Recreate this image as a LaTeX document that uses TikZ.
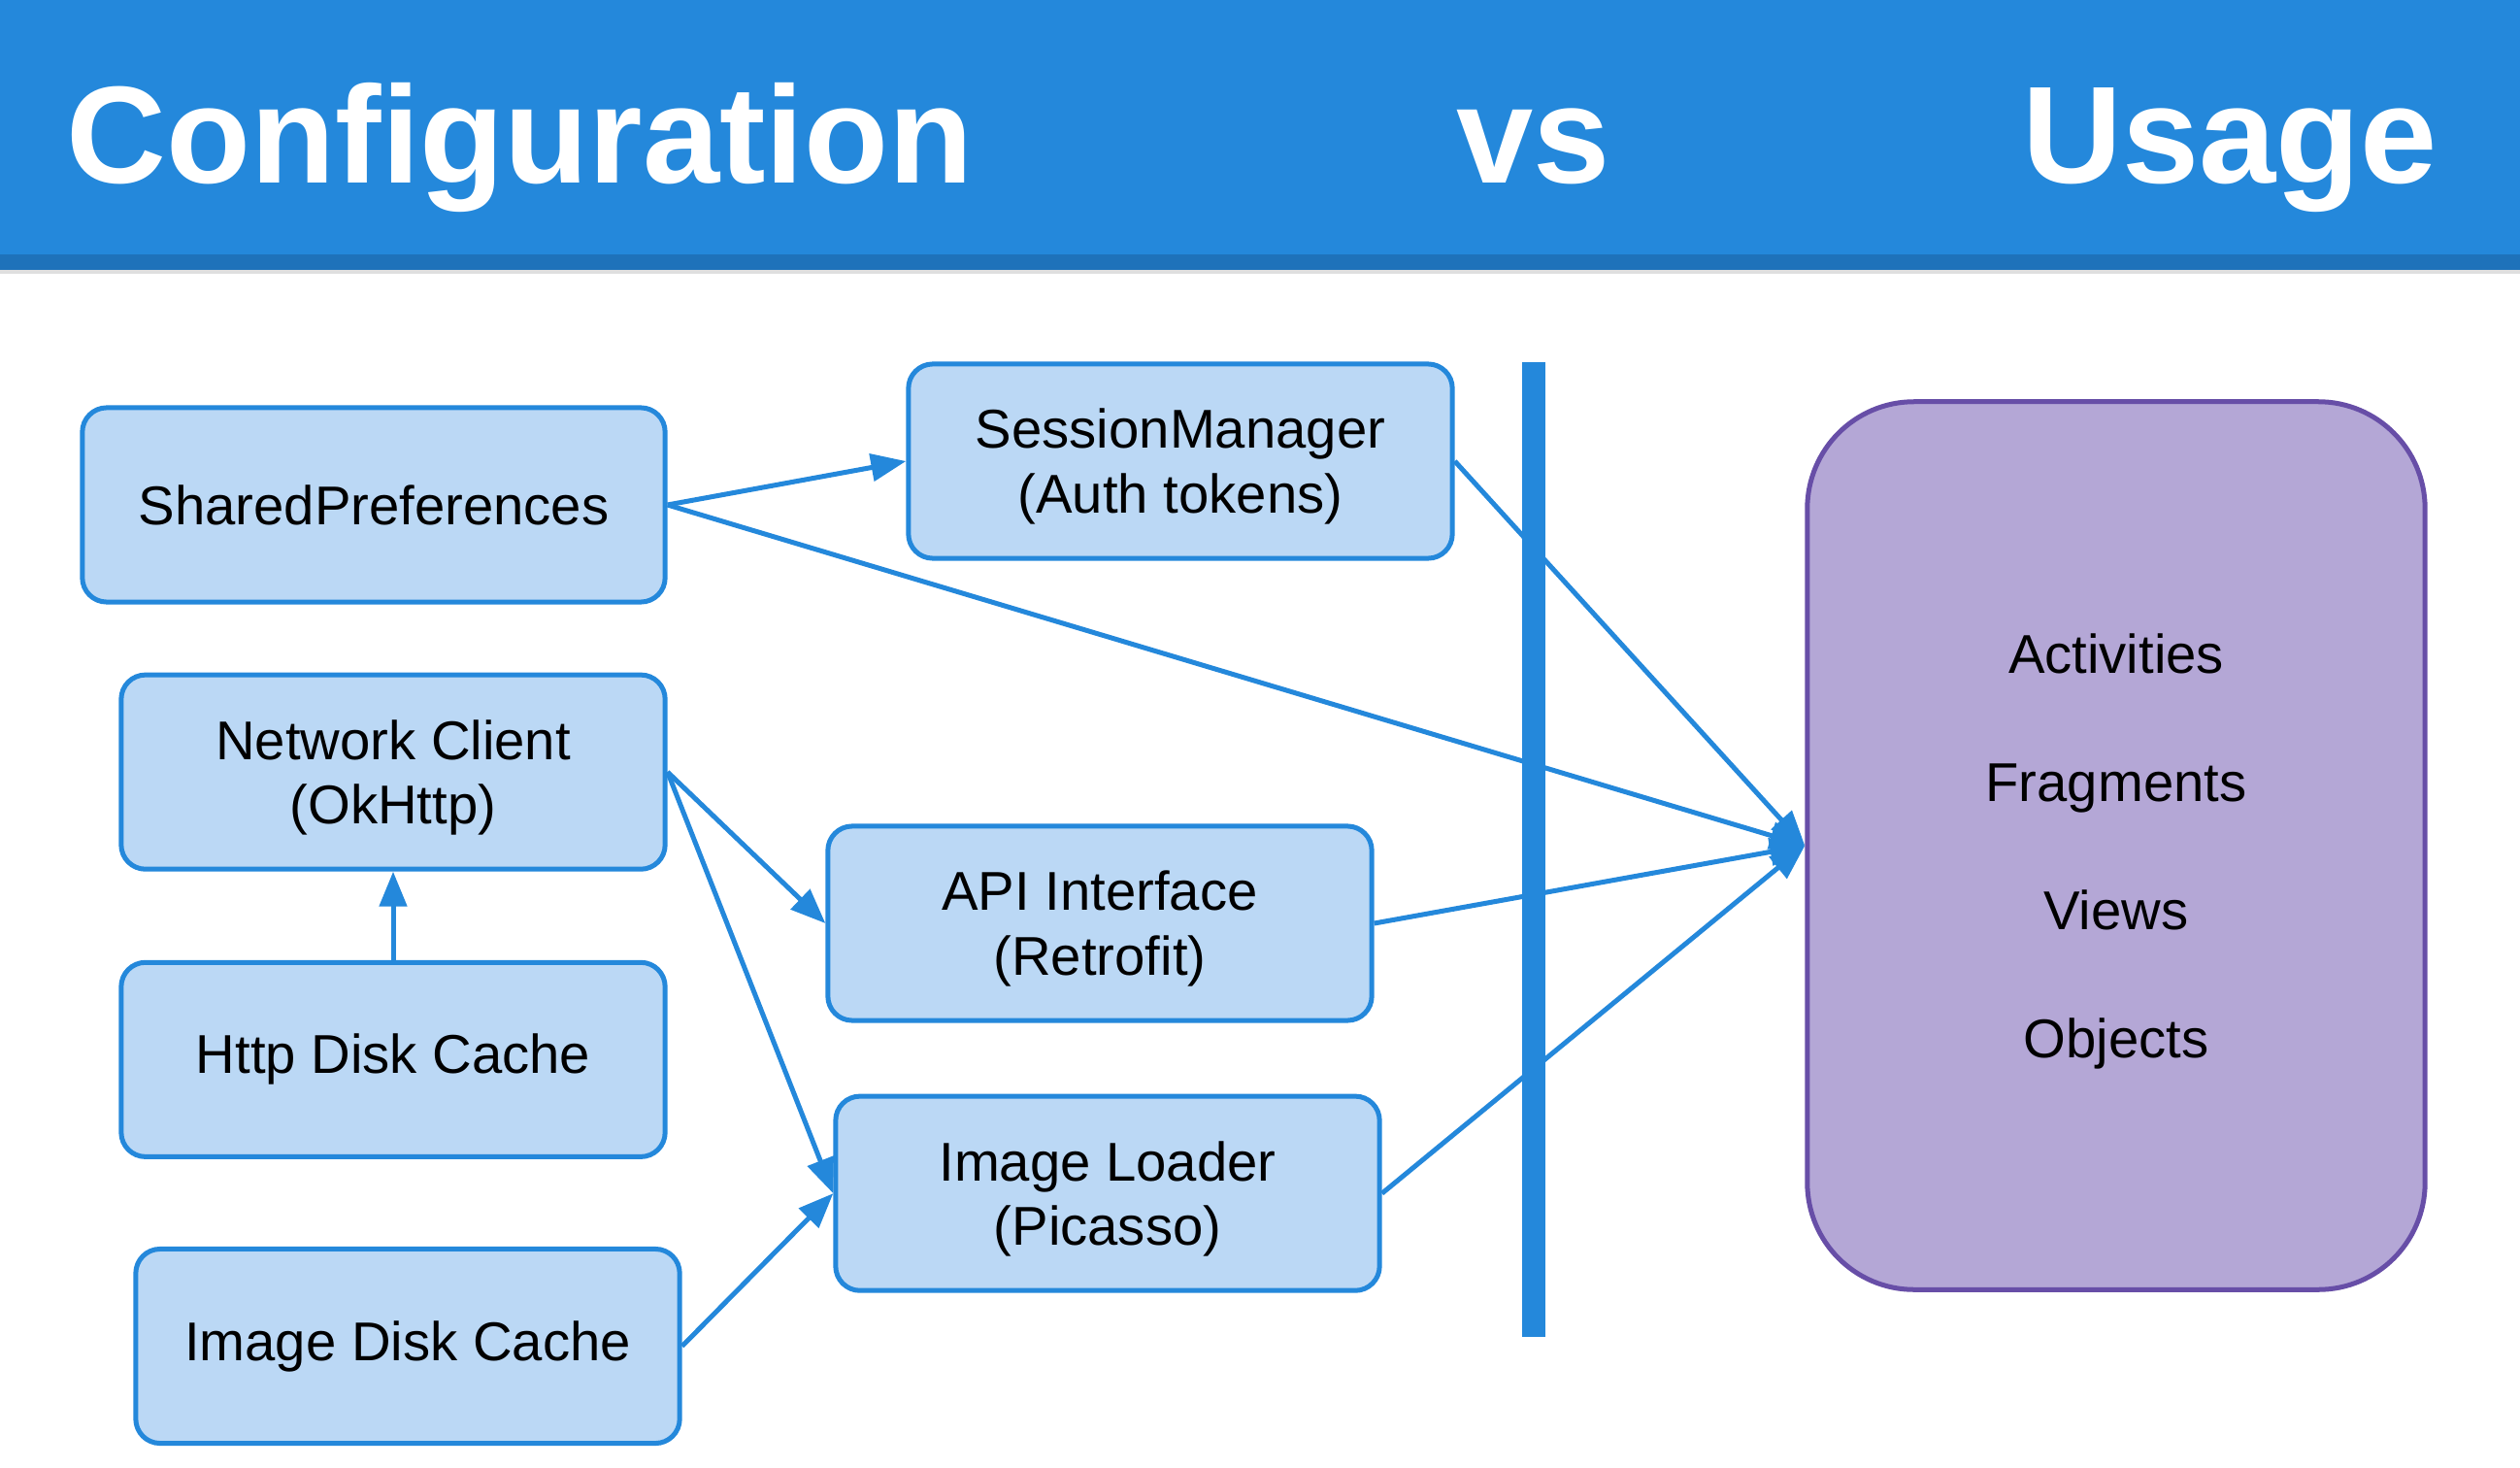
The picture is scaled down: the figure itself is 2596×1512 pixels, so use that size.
\documentclass[tikz,border=0pt]{standalone}
\usepackage{fontspec}
\setmainfont{Liberation Sans}
\usepackage{xcolor}
\usepackage{tikz}
\usetikzlibrary{arrows.meta, positioning}

\definecolor{headblue}{HTML}{2488DB}
\definecolor{headdark}{HTML}{1E72BA}
\definecolor{boxfill}{HTML}{BBD8F5}
\definecolor{usefill}{HTML}{B4A7D6}
\definecolor{useline}{HTML}{674EA7}

\begin{document}
\begin{tikzpicture}[
    x=0.01cm, y=-0.01cm,
    comp/.style={draw=headblue, line width=0.05cm, rounded corners=0.25cm, fill=boxfill, minimum width=5.6cm, minimum height=2.0cm, inner sep=0pt, align=center, font=\fontsize{16}{19}\selectfont},
    twoline/.style={comp, text depth=0pt},
    usage/.style={draw=useline, line width=0.05cm, rounded corners=1.1cm, fill=usefill, minimum width=6.36cm, minimum height=9.14cm, inner sep=0pt, text depth=0pt, align=center, font=\fontsize{16}{37.6}\selectfont},
    title/.style={text=white, inner sep=0pt, font=\fontsize{40.5}{48}\selectfont\bfseries},
    arr/.style={-{Triangle[length=0.36cm, width=0.28cm]}, line width=0.05cm, draw=headblue},
    divider/.style={draw=headblue, line width=0.24cm},
]

\useasboundingbox[fill=white] (0,0) rectangle (2596,1512);

% header band
\fill[headblue] (0,0) rectangle (2596,262);
\fill[headdark] (0,262) rectangle (2596,278);
\fill[gray!25] (0,278) rectangle (2596,282);

\node[title, anchor=base west] (conftitle) at (68,188) {Configuration};
\node[title, anchor=base] (vstitle) at (1580,188) {vs};
\node[title, anchor=base west] (usetitle) at (2083,188) {Usage};

% configuration side
\node[comp, minimum width=6.0cm] (prefs) at (385,520) {SharedPreferences};
\node[twoline] (session) at (1216,475) {SessionManager\\(Auth tokens)};
\node[twoline, below left=0.7cm and 0cm of prefs.south east] (client) {Network Client\\(OkHttp)};
\node[comp, below=0.91cm of client] (httpcache) {Http Disk Cache};
\node[comp, below=0.9cm of httpcache, xshift=0.15cm] (imgcache) {Image Disk Cache};
\node[twoline] (api) at (1133,951) {API Interface\\(Retrofit)};
\node[twoline, below=0.73cm of api, xshift=0.08cm] (loader) {Image Loader\\(Picasso)};

% usage side
\node[usage] (screens) at (2180,871) {Activities\\Fragments\\Views\\Objects};

\coordinate (bartop) at (1580,373);
\coordinate (barbot) at (1580,1377);
\draw[divider] (bartop) -- (barbot);

\draw[arr] (prefs.east) -- (session.west);
\draw[arr] (prefs.east) -- (screens.west);
\draw[arr] (session.east) -- (screens.west);
\draw[arr] (api.east) -- (screens.west);
\draw[arr] (loader.east) -- (screens.west);
\draw[arr] (client.east) -- (api.west);
\draw[arr] (client.east) -- (loader.west);
\draw[arr] (httpcache) -- (client);
\draw[arr] (imgcache.east) -- (loader.west);

\end{tikzpicture}
\end{document}
